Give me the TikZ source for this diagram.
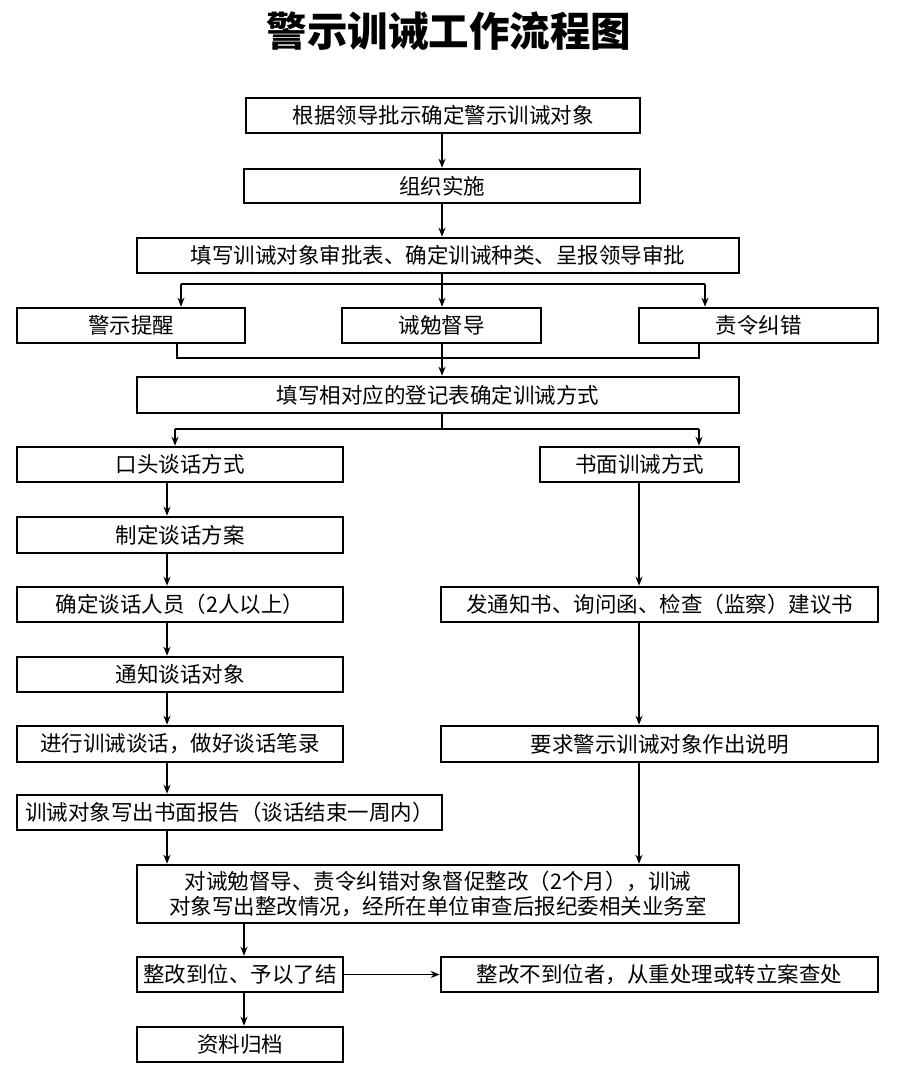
\documentclass[tikz,border=0pt]{standalone}
\usepackage{fontspec}
\setmainfont{Noto Sans CJK SC}
\usetikzlibrary{arrows.meta,calc}
\tikzset{
  box/.style={draw, line width=2.6pt, inner sep=0pt, minimum height=35pt, font=\fontsize{21.5}{25}\selectfont, align=center},
  conn/.style={line width=1.8pt},
  arr/.style={conn, -{Stealth[length=9pt,width=7pt]}}
}
\begin{document}
\begin{tikzpicture}[x=1pt,y=-1pt]
\useasboundingbox[fill=white] (0,0) rectangle (900,1078);
\node (title) at (449,31.5) {\fontsize{40.5}{44}\selectfont\bfseries 警示训诫工作流程图};
% boxes
\node[box, minimum width=394pt] (b1) at (443,115.5) {根据领导批示确定警示训诫对象};
\node[box, minimum width=396pt, minimum height=34pt] (b2) at (442,186) {组织实施};
\node[box, minimum width=602pt] (b3) at (438,255.5) {填写训诫对象审批表、确定训诫种类、呈报领导审批};
\node[box, minimum width=228pt] (c1) at (131,325.5) {警示提醒};
\node[box, minimum width=199pt] (c2) at (441.5,325.5) {诫勉督导};
\node[box, minimum width=239pt] (c3) at (758.5,325.5) {责令纠错};
\node[box, minimum width=602pt, minimum height=36pt] (b5) at (438,395) {填写相对应的登记表确定训诫方式};
\node[box, minimum width=326pt] (l1) at (180,464.5) {口头谈话方式};
\node[box, minimum width=199pt] (r1) at (639.5,464.5) {书面训诫方式};
\node[box, minimum width=326pt, minimum height=36pt] (l2) at (180,535) {制定谈话方案};
\node[box, minimum width=326pt] (l3) at (180,604.5) {确定谈话人员（2人以上）};
\node[box, minimum width=326pt] (l4) at (180,674.5) {通知谈话对象};
\node[box, minimum width=326pt, minimum height=36pt] (l5) at (180,744) {进行训诫谈话，做好谈话笔录};
\node[box, minimum width=425pt] (l6) at (229.5,812.5) {训诫对象写出书面报告（谈话结束一周内）};
\node[box, minimum width=437pt] (r2) at (659.5,604.5) {发通知书、询问函、检查（监察）建议书};
\node[box, minimum width=437pt, minimum height=36pt] (r3) at (659.5,744) {要求警示训诫对象作出说明};
\node[box, minimum width=602pt, minimum height=58pt] (d1) at (438,894) {对诫勉督导、责令纠错对象督促整改（2个月），训诫\\对象写出整改情况，经所在单位审查后报纪委相关业务室};
\node[box, minimum width=206pt] (d2) at (240,974.5) {整改到位、予以了结};
\node[box, minimum width=437pt] (d3) at (659.5,974.5) {整改不到位者，从重处理或转立案查处};
\node[box, minimum width=206pt] (d4) at (240,1044.5) {资料归档};
% connectors top
\coordinate (x442) at (442,0);
\draw[arr] (b1.south -| x442) -- (b2.north -| x442);
\draw[arr] (b2.south -| x442) -- (b3.north -| x442);
\coordinate (s1) at (442,284);
\coordinate (s1L) at (181,284);
\coordinate (s1R) at (705,284);
\draw[conn] (b3.south -| s1) -- (s1);
\draw[conn] (s1L) -- (s1R);
\draw[arr] (s1L) -- (s1L |- c1.north);
\draw[arr] (s1) -- (s1 |- c2.north);
\draw[arr] (s1R) -- (s1R |- c3.north);
\coordinate (m1L) at (177,358);
\coordinate (m1R) at (699,358);
\draw[conn] (m1L |- c1.south) -- (m1L) -- (m1R) -- (m1R |- c3.south);
\draw[arr] (c2.south -| x442) -- (b5.north -| x442);
\coordinate (s2) at (442,429);
\coordinate (s2L) at (175,429);
\coordinate (s2R) at (699,429);
\draw[conn] (b5.south -| s2) -- (s2);
\draw[conn] (s2L) -- (s2R);
\draw[arr] (s2L) -- (s2L |- l1.north);
\draw[arr] (s2R) -- (s2R |- r1.north);
% left column
\coordinate (xl) at (167,0);
\draw[arr] (l1.south -| xl) -- (l2.north -| xl);
\draw[arr] (l2.south -| xl) -- (l3.north -| xl);
\draw[arr] (l3.south -| xl) -- (l4.north -| xl);
\draw[arr] (l4.south -| xl) -- (l5.north -| xl);
\draw[arr] (l5.south -| xl) -- (l6.north -| xl);
\draw[arr] (l6.south -| xl) -- (d1.north -| xl);
% right column
\coordinate (xr) at (639,0);
\draw[arr] (r1.south -| xr) -- (r2.north -| xr);
\draw[arr] (r2.south -| xr) -- (r3.north -| xr);
\draw[arr] (r3.south -| xr) -- (d1.north -| xr);
% bottom
\coordinate (xb) at (244,0);
\draw[arr] (d1.south -| xb) -- (d2.north -| xb);
\draw[arr] (d2.south -| xb) -- (d4.north -| xb);
\draw[arr] (d2.east) -- (d3.west);
\end{tikzpicture}
\end{document}
